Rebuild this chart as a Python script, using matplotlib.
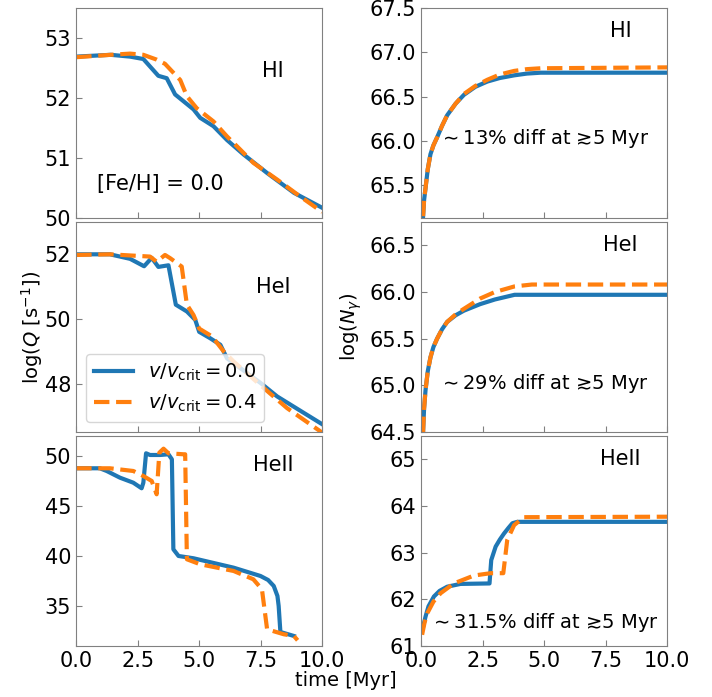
import matplotlib
matplotlib.use("Agg")
import matplotlib.pyplot as plt

# HI ionising rate, log(Q)
t_hi_q0 = [0.0, 1.4, 2.19, 2.73, 3.34, 3.68, 4.02, 4.77, 5.04, 5.58, 6.13, 6.8, 7.76, 8.85, 10.0]
hi_q0 = [52.69, 52.72, 52.69, 52.65, 52.37, 52.33, 52.06, 51.81, 51.67, 51.53, 51.3, 51.06, 50.75, 50.42, 50.17]
t_hi_q4 = [0.0, 1.4, 2.19, 2.73, 3.27, 3.61, 4.23, 4.5, 4.9, 5.58, 6.13, 6.67, 7.2, 8.17, 9.1, 10.0]
hi_q4 = [52.68, 52.72, 52.74, 52.72, 52.64, 52.57, 52.3, 52.03, 51.83, 51.61, 51.36, 51.14, 50.92, 50.64, 50.36, 50.1]

# HeI ionising rate
t_hei_q0 = [0.0, 1.37, 2.19, 2.76, 3.07, 3.34, 3.75, 4.05, 4.5, 4.84, 5.0, 5.45, 5.86, 6.13, 7.49, 8.17, 10.0]
hei_q0 = [52.0, 52.0, 51.86, 51.63, 51.89, 51.61, 51.66, 50.44, 50.23, 49.97, 49.6, 49.4, 49.2, 48.78, 48.02, 47.6, 46.74]
t_hei_q4 = [0.0, 1.37, 3.0, 3.27, 3.61, 3.82, 4.29, 4.5, 4.77, 5.0, 5.52, 6.0, 6.4, 7.49, 8.57, 10.0]
hei_q4 = [51.98, 52.0, 51.93, 51.77, 51.98, 51.88, 51.62, 50.44, 50.12, 49.7, 49.46, 48.99, 48.68, 47.95, 47.24, 46.48]

# HeII ionising rate
t_heii_q0 = [0.0, 0.96, 1.24, 1.78, 2.32, 2.66, 2.73, 2.84, 3.0, 3.41, 3.75, 3.89, 3.95, 4.16, 4.77, 6.4, 7.49, 7.8, 8.03, 8.18, 8.23, 8.3, 8.85]
heii_q0 = [48.77, 48.77, 48.5, 47.83, 47.33, 46.77, 47.33, 50.27, 50.1, 50.1, 50.17, 49.67, 40.67, 40.0, 39.77, 38.83, 38.0, 37.6, 37.0, 36.0, 35.0, 32.4, 32.0]
t_heii_q4 = [0.0, 1.37, 2.32, 2.73, 3.07, 3.27, 3.38, 3.55, 3.75, 4.36, 4.43, 4.5, 5.04, 6.4, 7.2, 7.55, 7.76, 8.44, 8.85, 9.0]
heii_q4 = [48.77, 48.77, 48.5, 48.0, 47.5, 46.17, 50.33, 50.73, 50.27, 50.17, 50.17, 39.67, 39.17, 38.5, 37.67, 36.67, 32.67, 32.17, 32.0, 31.57]

# cumulative photons, log(N)
t_hi_n = [0.08, 0.12, 0.18, 0.27, 0.38, 0.5, 0.65, 0.85, 1.06, 1.4, 1.74, 2.2, 2.69, 3.2, 3.78, 4.3, 4.86, 10.0]
hi_n0 = [65.15, 65.33, 65.47, 65.68, 65.85, 65.95, 66.04, 66.17, 66.29, 66.42, 66.52, 66.61, 66.67, 66.71, 66.74, 66.76, 66.77, 66.77]
hi_n4 = [65.15, 65.33, 65.47, 65.68, 65.85, 65.95, 66.04, 66.17, 66.29, 66.42, 66.53, 66.62, 66.69, 66.75, 66.79, 66.81, 66.82, 66.83]

t_hei_n = [0.08, 0.12, 0.18, 0.27, 0.38, 0.5, 0.65, 0.85, 1.06, 1.4, 1.74, 2.4, 3.0, 3.8, 4.5, 10.0]
hei_n0 = [64.5, 64.75, 64.95, 65.15, 65.3, 65.41, 65.5, 65.6, 65.68, 65.75, 65.8, 65.87, 65.92, 65.97, 65.97, 65.97]
hei_n4 = [64.5, 64.75, 64.95, 65.15, 65.3, 65.41, 65.5, 65.6, 65.68, 65.76, 65.82, 65.93, 66.0, 66.06, 66.08, 66.08]

t_heii_n0 = [0.08, 0.18, 0.3, 0.52, 0.75, 1.06, 1.6, 2.78, 2.85, 3.03, 3.2, 3.37, 3.55, 3.71, 3.91, 10.0]
heii_n0 = [61.41, 61.63, 61.85, 62.06, 62.18, 62.27, 62.33, 62.34, 62.84, 63.13, 63.28, 63.41, 63.53, 63.63, 63.66, 63.66]
t_heii_n4 = [0.04, 0.14, 0.25, 0.5, 0.79, 1.33, 2.15, 2.83, 3.34, 3.5, 3.78, 4.18, 10.0]
heii_n4 = [61.24, 61.5, 61.7, 61.95, 62.13, 62.34, 62.51, 62.56, 62.56, 63.27, 63.59, 63.76, 63.77]

ions = ["HI", "HeI", "HeII"]
diffs = ["13", "29", "31.5"]

plt.rcParams['font.size'] = 14

fig, axes = plt.subplots(3, 2, figsize=(7.12, 6.97), dpi=100, sharex=True)
fig.subplots_adjust(left=0.107, right=0.937, top=0.9885, bottom=0.0732, wspace=0.402, hspace=0.019)

q_data = [(t_hi_q0, hi_q0, t_hi_q4, hi_q4),
          (t_hei_q0, hei_q0, t_hei_q4, hei_q4),
          (t_heii_q0, heii_q0, t_heii_q4, heii_q4)]
n_data = [(t_hi_n, hi_n0, t_hi_n, hi_n4),
          (t_hei_n, hei_n0, t_hei_n, hei_n4),
          (t_heii_n0, heii_n0, t_heii_n4, heii_n4)]

q_lims = [(50, 53.5), (46.5, 53), (31, 52)]
n_lims = [(65.13, 67.5), (64.5, 66.75), (61, 65.5)]
q_ticks = [[50, 51, 52, 53], [48, 50, 52], [35, 40, 45, 50]]
n_ticks = [[65.5, 66.0, 66.5, 67.0, 67.5], [64.5, 65.0, 65.5, 66.0, 66.5], [61, 62, 63, 64, 65]]
q_label_y = [0.7, 0.69, 0.86]
n_text_y = [0.38, 0.23, 0.11]

for i in range(3):
	axq = axes[i, 0]
	axn = axes[i, 1]
	t0, y0, t4, y4 = q_data[i]
	axq.plot(t0, y0, color='C0', lw=3, label=r'$v/v_{\rm crit} = 0.0$')
	axq.plot(t4, y4, color='C1', lw=3, ls='--', label=r'$v/v_{\rm crit} = 0.4$')
	axq.set_ylim(*q_lims[i])
	axq.set_yticks(q_ticks[i])
	axq.text(0.8, q_label_y[i], ions[i], transform=axq.transAxes, ha='center', va='center', fontsize=15)

	t0, y0, t4, y4 = n_data[i]
	axn.plot(t0, y0, color='C0', lw=3)
	axn.plot(t4, y4, color='C1', lw=3, ls='--')
	axn.set_ylim(*n_lims[i])
	axn.set_yticks(n_ticks[i])
	axn.text(0.81, 0.89, ions[i], transform=axn.transAxes, ha='center', va='center', fontsize=15)
	axn.text(0.5, n_text_y[i], r'$\sim$' + diffs[i] + '% diff at \u22735 Myr',
		transform=axn.transAxes, ha='center', va='center')

for ax in axes.flat:
	ax.set_xlim(0, 10)
	ax.set_xticks([0.0, 2.5, 5.0, 7.5, 10.0])
	ax.tick_params(direction='in', length=4, color='grey', labelsize=15)
	for s in ax.spines.values():
		s.set_color('grey')

axes[2, 0].set_xticklabels(['0.0', '2.5', '5.0', '7.5', '10.0'])
axes[0, 0].text(0.34, 0.16, '[Fe/H] = 0.0', transform=axes[0, 0].transAxes, ha='center', va='center', fontsize=15)
axes[1, 0].legend(loc='lower left', fontsize=14, handlelength=2.0)
axes[1, 0].set_ylabel(r'log($Q$ [s$^{-1}$])', labelpad=0)
axes[1, 1].set_ylabel(r'log($N_\gamma$)', labelpad=4)
fig.text(0.485, 0.024, 'time [Myr]', ha='center', va='center', fontsize=14)

fig.savefig('out.png', dpi=100)
